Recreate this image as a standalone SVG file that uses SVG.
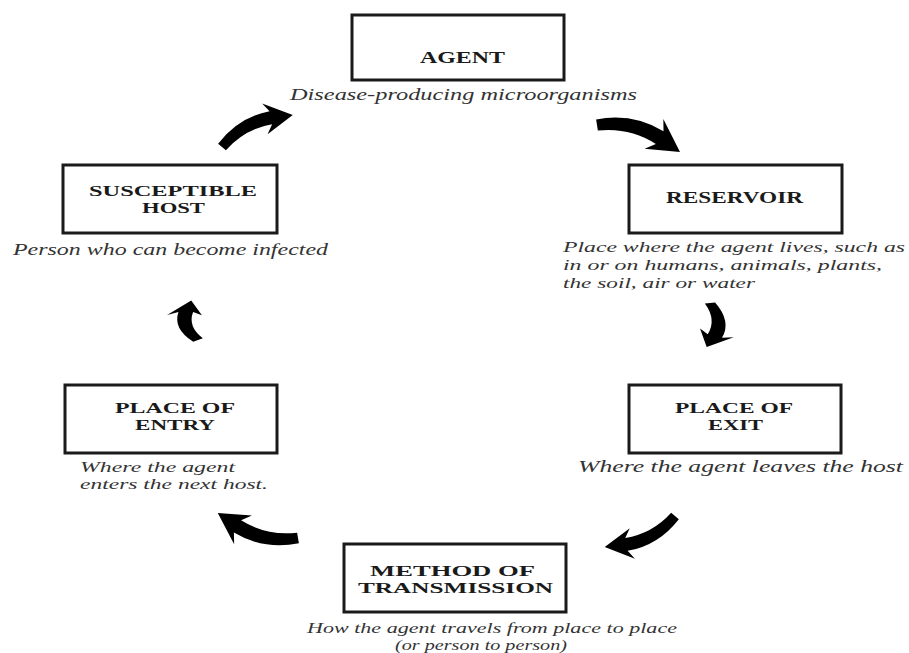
<svg xmlns="http://www.w3.org/2000/svg" xmlns:xlink="http://www.w3.org/1999/xlink" width="909" height="653" viewBox="0 0 909 653">
<style>
.box{fill:#fff;stroke:#1a1a1a;stroke-width:3}
.t{font-family:"Liberation Serif",serif;font-weight:bold;font-size:17px;fill:#1a1a1a}
.t2{font-family:"Liberation Serif",serif;font-weight:bold;font-size:14.5px;fill:#1a1a1a}
.d{font-family:"Liberation Serif",serif;font-style:italic;font-size:17px;fill:#333}
.d2{font-family:"Liberation Serif",serif;font-style:italic;font-size:14.5px;fill:#333}
.arr{fill:#000}
</style>
<defs>
<path id="carrow" class="arr" d="M-2.5,-4.5 Q27,-22 59.3,-15.5 L55.3,-26 L80,-3 L48.5,5.5 L56.7,-2.2 Q29,-8.5 2.5,4.5 Z"/>
</defs>
<rect width="909" height="653" fill="#fff"/>

<g id="agent">
<rect class="box" x="352" y="15" width="212" height="65"/>
<text class="t" x="420" y="63" textLength="85" lengthAdjust="spacingAndGlyphs">AGENT</text>
<text class="d" x="290" y="100" textLength="347" lengthAdjust="spacingAndGlyphs">Disease-producing microorganisms</text>
</g>

<g id="reservoir">
<rect class="box" x="629" y="165" width="213" height="68"/>
<text class="t" x="666" y="203" textLength="137" lengthAdjust="spacingAndGlyphs">RESERVOIR</text>
<text class="d2" x="563" y="252" textLength="342" lengthAdjust="spacingAndGlyphs">Place where the agent lives, such as</text>
<text class="d2" x="563" y="270" textLength="319" lengthAdjust="spacingAndGlyphs">in or on humans, animals, plants,</text>
<text class="d2" x="563" y="288" textLength="192" lengthAdjust="spacingAndGlyphs">the soil, air or water</text>
</g>

<g id="susceptible-host">
<rect class="box" x="63" y="165" width="214" height="68"/>
<text class="t2" x="89" y="196" textLength="168" lengthAdjust="spacingAndGlyphs">SUSCEPTIBLE</text>
<text class="t2" x="142" y="213" textLength="63" lengthAdjust="spacingAndGlyphs">HOST</text>
<text class="d" x="13" y="255" textLength="315" lengthAdjust="spacingAndGlyphs">Person who can become infected</text>
</g>

<g id="place-of-entry">
<rect class="box" x="65" y="385" width="212" height="68"/>
<text class="t2" x="115" y="413" textLength="120" lengthAdjust="spacingAndGlyphs">PLACE OF</text>
<text class="t2" x="135" y="430" textLength="80" lengthAdjust="spacingAndGlyphs">ENTRY</text>
<text class="d2" x="80" y="472" textLength="155" lengthAdjust="spacingAndGlyphs">Where the agent</text>
<text class="d2" x="80" y="489" textLength="188" lengthAdjust="spacingAndGlyphs">enters the next host.</text>
</g>

<g id="place-of-exit">
<rect class="box" x="629" y="385" width="212" height="68"/>
<text class="t2" x="675" y="413" textLength="118" lengthAdjust="spacingAndGlyphs">PLACE OF</text>
<text class="t2" x="708" y="430" textLength="55" lengthAdjust="spacingAndGlyphs">EXIT</text>
<text class="d" x="578" y="472" textLength="325" lengthAdjust="spacingAndGlyphs">Where the agent leaves the host</text>
</g>

<g id="method-of-transmission">
<rect class="box" x="344" y="544" width="222" height="68"/>
<text class="t2" x="370" y="576" textLength="165" lengthAdjust="spacingAndGlyphs">METHOD OF</text>
<text class="t2" x="358" y="593" textLength="195" lengthAdjust="spacingAndGlyphs">TRANSMISSION</text>
<text class="d2" x="307" y="633" textLength="370" lengthAdjust="spacingAndGlyphs">How the agent travels from place to place</text>
<text class="d2" x="395" y="650" textLength="172" lengthAdjust="spacingAndGlyphs">(or person to person)</text>
</g>

<g id="connectors">
<use xlink:href="#carrow" href="#carrow" transform="translate(222,147) rotate(-22.2) scale(0.97)"/>
<use xlink:href="#carrow" href="#carrow" transform="translate(597,125) rotate(20.1) scale(1.09)"/>
<use xlink:href="#carrow" href="#carrow" transform="translate(710,303) rotate(98.6) scale(0.55,1.1)"/>
<use xlink:href="#carrow" href="#carrow" transform="translate(675,516) rotate(158.3) scale(0.96)"/>
<use xlink:href="#carrow" href="#carrow" transform="translate(298,538) rotate(-160.5) scale(1.05)"/>
<use xlink:href="#carrow" href="#carrow" transform="translate(198,340) rotate(-95) scale(0.5,1.1)"/>
</g>
</svg>
